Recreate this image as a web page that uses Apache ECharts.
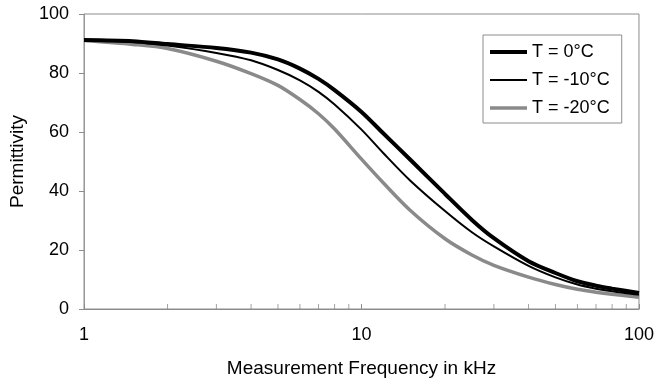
<!DOCTYPE html>
<html>
<head>
<meta charset="utf-8">
<script src="https://cdn.jsdelivr.net/npm/echarts@6/dist/echarts.min.js"></script>
<style>
  html, body { margin: 0; padding: 0; background: #fff; }
  #chart { width: 657px; height: 384px; }
</style>
</head>
<body>
<div id="chart"></div>
<script>
// frequencies in kHz
var freqs = [1, 1.5, 2, 3, 4, 5, 6, 7, 8, 10, 12, 15, 20, 25, 30, 40, 50, 60, 70, 80, 100]

// permittivity per temperature
var t0 = [91.2, 90.8, 89.8, 88.5, 86.9, 84.6, 81.5, 78.0, 74.2, 66.8, 59.5, 50.6, 39.0, 30.2, 24.0, 16.2, 12.2, 9.4, 7.9, 6.9, 5.4]
var t10 = [91.2, 90.5, 89.3, 86.8, 84.3, 81.0, 77.5, 73.6, 69.3, 60.8, 52.8, 43.5, 33.2, 26.0, 21.2, 14.6, 10.7, 8.3, 6.9, 6.0, 4.8]
var t20 = [91.0, 89.7, 88.3, 84.0, 79.8, 75.8, 71.0, 66.2, 61.0, 50.8, 42.7, 33.4, 23.8, 18.3, 14.8, 10.8, 8.3, 6.7, 5.7, 5.0, 4.0]

var seriesNames = ['T = 0°C', 'T = -10°C', 'T = -20°C']
var seriesColors = ['#000', '#000', '#8a8a8a']
var seriesWidths = [4, 2, 3.5]
var minorTickValues = [2, 3, 4, 5, 6, 7, 8, 9, 20, 30, 40, 50, 60, 70, 80, 90]

function pairs(ys) {
  return freqs.map(function (f, i) { return [f, ys[i]] })
}

function lineSeries(i, ys) {
  return {
    name: seriesNames[i], type: 'line', data: pairs(ys),
    smooth: 0.3, symbol: 'none',
    color: seriesColors[i],
    lineStyle: { color: seriesColors[i], width: seriesWidths[i] },
    z: 4 - i
  }
}

var font = 'Liberation Sans, Arial, sans-serif'
var chart = echarts.init(document.getElementById('chart'))

chart.setOption({
  animation: false,
  backgroundColor: '#fff',
  textStyle: { fontFamily: font },
  grid: {
    left: 81, right: 18, top: 14, bottom: 75,
    show: true, borderColor: '#8c8c8c', borderWidth: 1
  },
  legend: {
    orient: 'vertical',
    left: 483, top: 35,
    padding: [8, 12, 6, 5],
    itemGap: 10,
    itemWidth: 37,
    itemHeight: 14,
    backgroundColor: '#fff',
    borderColor: '#8c8c8c',
    borderWidth: 1,
    borderRadius: 0,
    itemStyle: { opacity: 0, borderWidth: 0 },
    textStyle: { fontSize: 18, color: '#000', fontFamily: font },
    data: seriesNames.map(function (n, i) {
      return { name: n, lineStyle: { color: seriesColors[i], width: seriesWidths[i] } }
    })
  },
  xAxis: {
    type: 'log',
    logBase: 10,
    min: 1, max: 100,
    name: 'Measurement Frequency in kHz',
    nameLocation: 'middle',
    nameGap: 50,
    nameTextStyle: { fontSize: 19, color: '#000' },
    axisLine: { lineStyle: { color: '#8c8c8c', width: 1 } },
    axisTick: { show: true, inside: true, length: 5, lineStyle: { color: '#8c8c8c' } },
    axisLabel: { fontSize: 18, color: '#000', margin: 17 },
    splitLine: { show: false }
  },
  yAxis: {
    type: 'value',
    min: 0, max: 100, interval: 20,
    name: 'Permittivity',
    nameLocation: 'middle',
    nameGap: 57,
    nameTextStyle: { fontSize: 19, color: '#000' },
    axisLine: { show: true, lineStyle: { color: '#9a9a9a', width: 1 } },
    axisTick: { show: true, length: 5, lineStyle: { color: '#8c8c8c' } },
    axisLabel: { fontSize: 18, color: '#000', margin: 15 },
    splitLine: { show: false }
  },
  series: [
    lineSeries(0, t0),
    lineSeries(1, t10),
    lineSeries(2, t20),
    {
      // minor ticks of the log axis
      name: 'minor', type: 'scatter', silent: true,
      data: minorTickValues.map(function (v) { return [v, 0] }),
      symbol: 'rect', symbolSize: [1, 5], symbolOffset: [0, -2.5],
      itemStyle: { color: '#8c8c8c' }, z: 1
    }
  ]
})
</script>
</body>
</html>
